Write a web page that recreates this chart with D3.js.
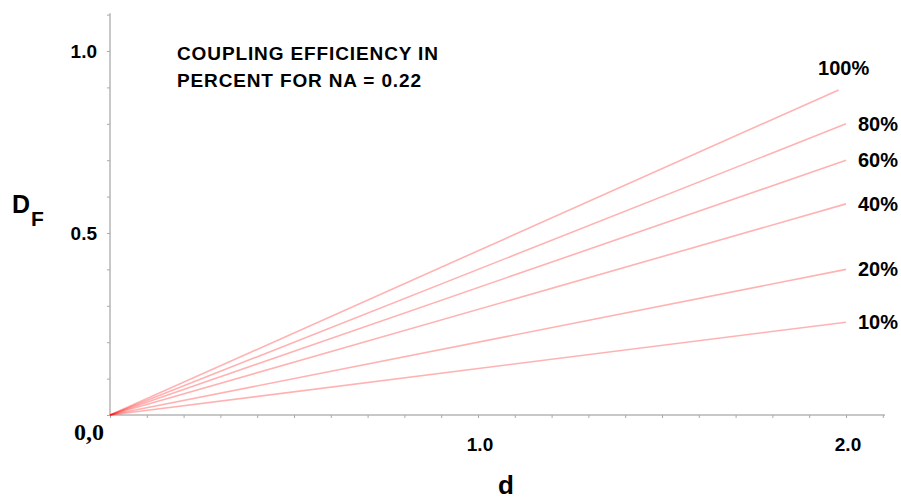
<!DOCTYPE html>
<html>
<head>
<meta charset="utf-8">
<script src="https://cdn.jsdelivr.net/npm/d3@7"></script>
<style>
  body { margin: 0; background: #fff; }
  text { font-family: "Liberation Sans", Arial, sans-serif; font-weight: bold; fill: #000; }
</style>
</head>
<body>
<div id="chart"></div>
<script>
// 曲线数据：耦合效率 (NA = 0.22)
const efficiencyLabels = ["100%", "80%", "60%", "40%", "20%", "10%"];
const dStart = [0, 0, 0, 0, 0, 0];
const dfStart = [0, 0, 0, 0, 0, 0];
const dEnd = [1.98, 2.0, 2.0, 2.0, 2.0, 2.0];
const dfEnd = [0.893, 0.80, 0.70, 0.58, 0.40, 0.255];
const xTickLabels = ["1.0", "2.0"];
const yTickLabels = ["0.5", "1.0"];
const titleLines = ["COUPLING EFFICIENCY IN", "PERCENT FOR NA = 0.22"];

const width = 901, height = 501;

const svg = d3.select("#chart")
    .append("svg")
    .attr("width", width)
    .attr("height", height);

// 比例尺
const x = d3.scaleLinear().domain([0, 2]).range([110, 846]);
const y = d3.scaleLinear().domain([0, 1]).range([415, 51]);

const axisColor = "#c8c8c8";

// x轴
const xAxis = svg.append("g")
    .attr("transform", `translate(0,${y(0)})`)
    .call(d3.axisBottom(x).tickValues(d3.range(0, 2.11, 0.1)).tickSize(3).tickFormat(""));
xAxis.select(".domain").attr("stroke", axisColor).attr("stroke-width", 2)
    .attr("d", `M${x(0)},0H${x(2.106)}`);
xAxis.selectAll(".tick line").attr("stroke", "#aaa");

// y轴
const yAxis = svg.append("g")
    .attr("transform", `translate(${x(0)},0)`)
    .call(d3.axisLeft(y).tickValues(d3.range(0, 1.11, 0.1)).tickSize(3).tickFormat(""));
yAxis.select(".domain").attr("stroke", axisColor).attr("stroke-width", 2)
    .attr("d", `M0,${y(0)}V${y(1.104)}`);
yAxis.selectAll(".tick line").attr("stroke", "#aaa");

// 刻度标签
svg.selectAll(".xlab")
    .data(xTickLabels)
    .enter().append("text")
    .attr("x", d => x(+d) + 2)
    .attr("y", y(0) + 36)
    .attr("text-anchor", "middle")
    .style("font-size", "19px")
    .text(d => d);

svg.selectAll(".ylab")
    .data(yTickLabels)
    .enter().append("text")
    .attr("x", x(0) - 13)
    .attr("y", d => y(+d) + 7)
    .attr("text-anchor", "end")
    .style("font-size", "19px")
    .text(d => d);

svg.append("text")
    .attr("x", x(0) - 6)
    .attr("y", y(0) + 25)
    .attr("text-anchor", "end")
    .style("font-family", "'Liberation Serif', 'Times New Roman', serif")
    .style("font-size", "24px")
    .text("0,0");

// 轴标题
svg.append("text")
    .attr("x", 506)
    .attr("y", 494)
    .attr("text-anchor", "middle")
    .style("font-size", "26px")
    .text("d");

svg.append("text")
    .attr("x", 12)
    .attr("y", 213)
    .style("font-size", "25px")
    .text("D");
svg.append("text")
    .attr("x", 31)
    .attr("y", 226)
    .style("font-size", "21px")
    .text("F");

// 标题
svg.selectAll(".title")
    .data(titleLines)
    .enter().append("text")
    .attr("x", 177)
    .attr("y", (d, i) => 60 + i * 27)
    .style("font-size", "19px")
    .attr("textLength", (d, i) => i === 0 ? 261 : 244)
    .text(d => d);

// 折线
const line = d3.line()
    .x(d => x(d[0]))
    .y(d => y(d[1]));

efficiencyLabels.forEach((lab, i) => {
    svg.append("path")
        .datum([[dStart[i], dfStart[i]], [dEnd[i], dfEnd[i]]])
        .attr("fill", "none")
        .attr("stroke", "#ff0000")
        .attr("stroke-opacity", 0.3)
        .attr("stroke-width", 1.6)
        .attr("d", line);
});

// 曲线标签
svg.selectAll(".serieslab")
    .data(efficiencyLabels)
    .enter().append("text")
    .attr("x", (d, i) => i === 0 ? x(dEnd[i]) + 5 : x(dEnd[i]) + 12)
    .attr("y", (d, i) => i === 0 ? y(dfEnd[i]) - 15 : y(dfEnd[i]) + 7)
    .attr("text-anchor", (d, i) => i === 0 ? "middle" : "start")
    .style("font-size", "20px")
    .text(d => d);
</script>
</body>
</html>
